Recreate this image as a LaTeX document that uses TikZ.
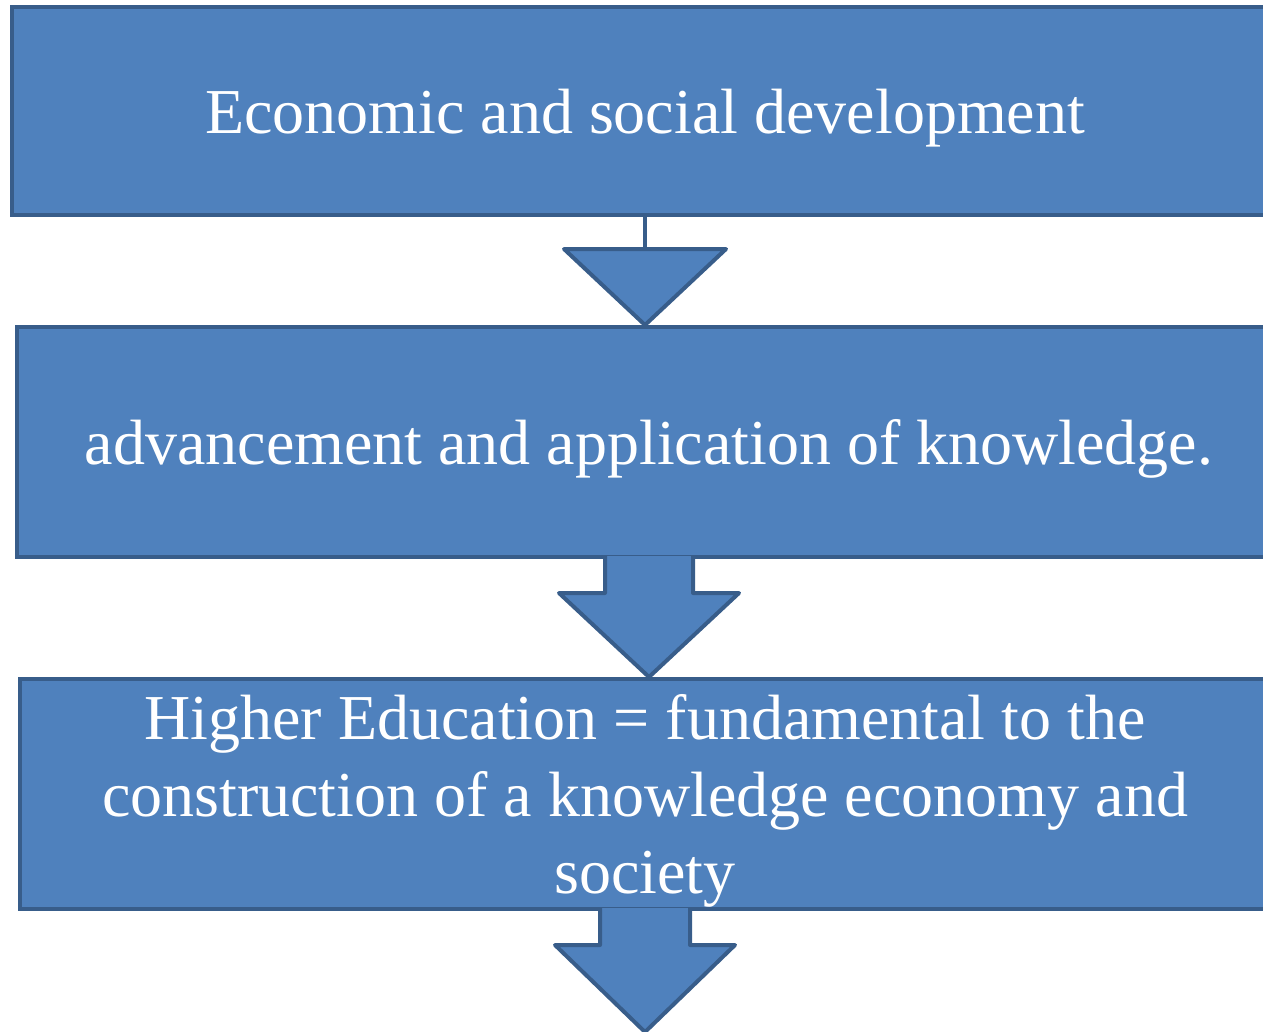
\documentclass[tikz,border=0pt]{standalone}
\usepackage{fontspec}
\setmainfont{Liberation Serif}
\usetikzlibrary{calc}
\definecolor{boxfill}{HTML}{4F81BD}
\definecolor{boxline}{HTML}{385D8A}
\tikzstyle{stage}=[draw=boxline,fill=boxfill,line width=4pt,text=white,align=center,
                   inner sep=0pt,text depth=0pt,font=\fontsize{64}{77}\selectfont]
\tikzstyle{flow}=[draw=boxline,fill=boxfill,line width=4pt,line join=round]
\begin{document}
\begin{tikzpicture}[x=1pt,y=-1pt]
  \useasboundingbox (0,0) rectangle (1263,1031);
  \clip (0,0) rectangle (1263,1031);

  \node[stage,minimum width=1266pt,minimum height=208pt] (dev) at (645,111)
    {Economic and social development};
  \node[stage,minimum width=1264pt,minimum height=230pt] (know) at (649,442)
    {advancement and application of knowledge.};
  \node[stage,minimum width=1250pt,minimum height=230pt] (he) at (645,794)
    {Higher Education = fundamental to the\\construction of a knowledge economy and\\society};

  % line with a wide head
  \draw[boxline,line width=4pt] (dev.south) -- ++(0,32) coordinate (h1);
  \draw[flow] ($(h1)+(-81,0)$) -- ($(h1)+(81,0)$) -- (h1 |- know.north) -- cycle;

  % block arrows, open at the top
  \coordinate (a2) at (know.south);
  \path[flow] ($(a2)+(-44,-3)$) -- ($(a2)+(-44,34)$) -- ($(a2)+(-90,34)$) -- (a2 |- he.north)
    -- ($(a2)+(90,34)$) -- ($(a2)+(44,34)$) -- ($(a2)+(44,-3)$);
  \coordinate (a3) at (he.south);
  \path[flow] ($(a3)+(-45,-3)$) -- ($(a3)+(-45,34)$) -- ($(a3)+(-90,34)$) -- ($(a3)+(0,121)$)
    -- ($(a3)+(90,34)$) -- ($(a3)+(45,34)$) -- ($(a3)+(45,-3)$);
\end{tikzpicture}
\end{document}
